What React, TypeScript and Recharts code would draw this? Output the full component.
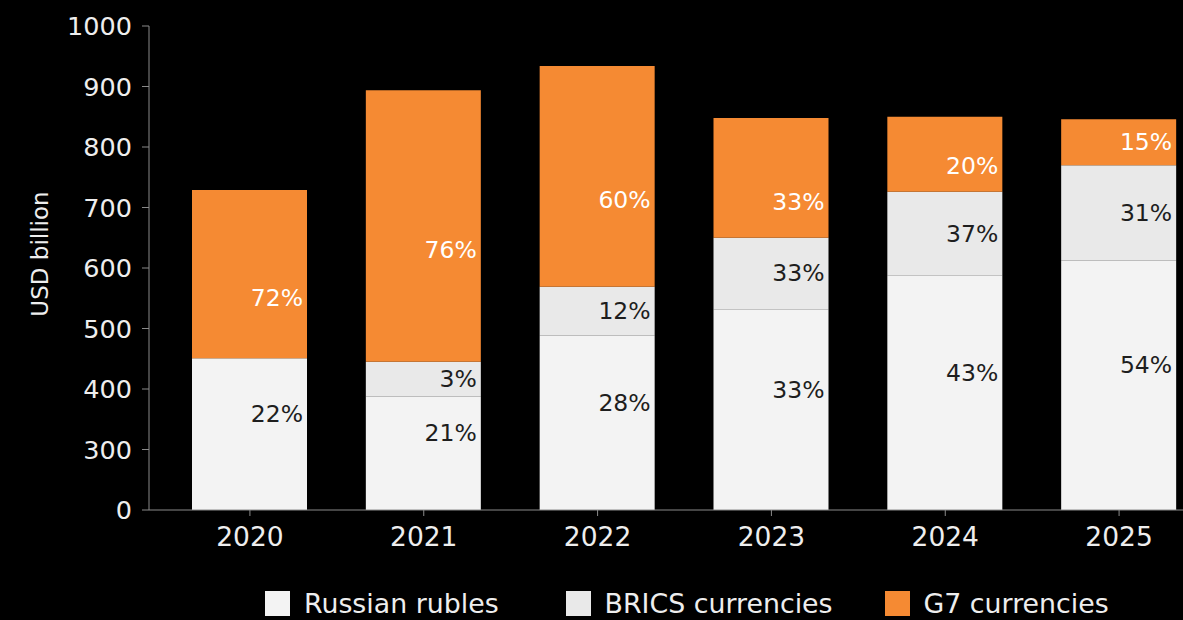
import { BarChart, Bar, XAxis, YAxis, LabelList } from "recharts";

const years = ["2020", "2021", "2022", "2023", "2024", "2025"];
const rubles = [451, 387, 488, 532, 588, 612];
const brics = [0, 58, 81, 118, 138, 158];
const g7 = [278, 449, 365, 198, 124, 76];

const rublesPct = ["22%", "21%", "28%", "33%", "43%", "54%"];
const bricsPct = ["", "3%", "12%", "33%", "37%", "31%"];
const g7Pct = ["72%", "76%", "60%", "33%", "20%", "15%"];

const yTicks = [200, 300, 400, 500, 600, 700, 800, 900, 1000];

const data = years.map((year, i) => ({
  year,
  rubles: rubles[i],
  brics: brics[i],
  g7: g7[i],
  rublesPct: rublesPct[i],
  bricsPct: bricsPct[i],
  g7Pct: g7Pct[i],
}));

const FONT = "'DejaVu Sans', sans-serif";
const PLOT_BOTTOM = 510;
const RUB_COLOR = "#f3f3f3";
const BRICS_COLOR = "#e9e9e9";
const G7_COLOR = "#f58a33";

// label sits in the visible part of the segment (bars are clipped at the axis)
function pctLabel(color: string, shift: number) {
  return (props: any) => {
    const { x, y, width, height, value } = props;
    if (!value) return null;
    const top = Number(y);
    const bottom = Math.min(top + Number(height), PLOT_BOTTOM);
    const h = bottom - top;
    // move towards the shift, but not out of short segments
    const dy = shift > 0 ? Math.min(shift, Math.max(0, h / 2 - 26)) : shift;
    return (
      <text
        x={Number(x) + Number(width) - 4}
        y={(top + bottom) / 2 + dy}
        fill={color}
        textAnchor="end"
        dominantBaseline="central"
        fontSize={23.5}
        fontFamily={FONT}
      >
        {value}
      </text>
    );
  };
}

const legendItems = [
  { name: "Russian rubles", color: RUB_COLOR },
  { name: "BRICS currencies", color: BRICS_COLOR },
  { name: "G7 currencies", color: G7_COLOR },
];

export default function App() {
  return (
    <div
      style={{
        position: "fixed",
        top: 0,
        left: 0,
        width: 1183,
        height: 620,
        overflow: "hidden",
        background: "#000",
        fontFamily: FONT,
      }}
    >
      <BarChart
        width={1206}
        height={620}
        data={data}
        margin={{ top: 26, right: 0, bottom: 70, left: 0 }}
      >
        <XAxis
          dataKey="year"
          height={40}
          padding={{ left: 14, right: 0 }}
          stroke="#8a8a8a"
          tickSize={6}
          tickMargin={11}
          tick={{ fill: "#eeeeee", fontSize: 26.5, fontFamily: FONT }}
        />
        <YAxis
          width={149}
          domain={[200, 1000]}
          ticks={yTicks}
          allowDataOverflow
          interval={0}
          stroke="#8a8a8a"
          tickSize={7}
          tickMargin={10}
          tickFormatter={(v: number) => (v === 200 ? "0" : String(v))}
          tick={{ fill: "#eeeeee", fontSize: 25.5, fontFamily: FONT }}
          label={{
            content: () => (
              <text
                x={40}
                y={254}
                transform="rotate(-90, 40, 254)"
                fill="#eeeeee"
                textAnchor="middle"
                dominantBaseline="central"
                fontSize={23}
                fontFamily={FONT}
              >
                USD billion
              </text>
            ),
          }}
        />
        <Bar dataKey="rubles" stackId="a" fill={RUB_COLOR} barSize={115} isAnimationActive={false}>
          <LabelList dataKey="rublesPct" content={pctLabel("#1e1e1e", -20)} />
        </Bar>
        <Bar dataKey="brics" stackId="a" fill={BRICS_COLOR} barSize={115} isAnimationActive={false}>
          <LabelList dataKey="bricsPct" content={pctLabel("#1e1e1e", 0)} />
        </Bar>
        <Bar dataKey="g7" stackId="a" fill={G7_COLOR} barSize={115} isAnimationActive={false}>
          <LabelList dataKey="g7Pct" content={pctLabel("#ffffff", 24)} />
        </Bar>
      </BarChart>
      <div
        style={{
          position: "absolute",
          top: 588,
          left: 265,
          display: "flex",
          alignItems: "center",
          color: "#eeeeee",
          fontSize: 26.8,
        }}
      >
        {legendItems.map((item, i) => (
          <div
            key={item.name}
            style={{ display: "flex", alignItems: "center", marginRight: i === 0 ? 67 : 52 }}
          >
            <span
              style={{
                display: "inline-block",
                width: 25,
                height: 25,
                background: item.color,
                marginRight: 14,
              }}
            />
            <span>{item.name}</span>
          </div>
        ))}
      </div>
    </div>
  );
}
